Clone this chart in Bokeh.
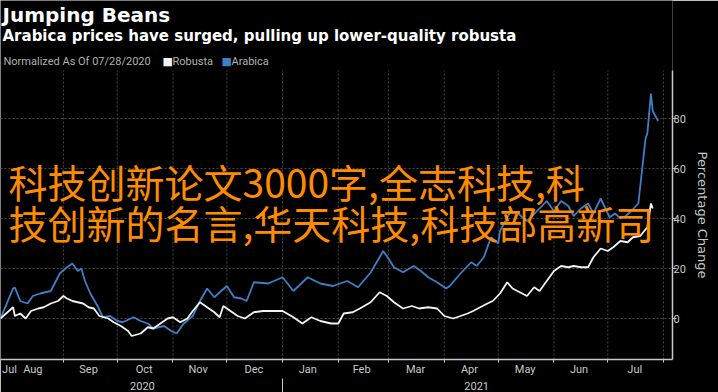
from datetime import date
from bokeh.plotting import figure
from bokeh.models import Range1d, FixedTicker, LinearAxis, Label, ColumnDataSource, Title
from bokeh.embed import file_html
from bokeh.resources import INLINE

# ---------------- data ----------------
arabica_dates = ["2020-07-28","2020-08-04","2020-08-05","2020-08-08","2020-08-12","2020-08-15","2020-08-19",
    "2020-08-25","2020-08-30","2020-09-03","2020-09-06","2020-09-09","2020-09-11","2020-09-13","2020-09-16",
    "2020-09-20","2020-09-23","2020-09-27","2020-10-01","2020-10-04","2020-10-10","2020-10-14","2020-10-18",
    "2020-10-21","2020-10-27","2020-10-31","2020-11-03","2020-11-07","2020-11-12","2020-11-16","2020-11-20",
    "2020-11-24","2020-11-27","2020-12-01","2020-12-05","2020-12-09","2020-12-12","2020-12-16","2020-12-24",
    "2021-01-01","2021-01-07","2021-01-15","2021-01-22","2021-01-29","2021-02-06","2021-02-12","2021-02-19",
    "2021-02-26","2021-02-28","2021-03-04","2021-03-09","2021-03-15","2021-03-19","2021-03-23","2021-03-28",
    "2021-04-02","2021-04-04","2021-04-10","2021-04-16","2021-04-19","2021-04-23","2021-04-27","2021-05-01",
    "2021-05-02","2021-05-08","2021-05-12","2021-05-17","2021-05-20","2021-05-24","2021-05-28","2021-06-01",
    "2021-06-05","2021-06-09","2021-06-12","2021-06-16","2021-06-20","2021-06-23","2021-06-27","2021-07-02",
    "2021-07-05","2021-07-08","2021-07-11","2021-07-14","2021-07-18","2021-07-20","2021-07-22","2021-07-23",
    "2021-07-25","2021-07-26","2021-07-29"]
arabica_values = [0, 12, 12.4, 7, 6, 9, 10,
    11, 18, 20.5, 22, 19, 20, 15, 10,
    5, 0.5, 1, -1, -1.5, 0.5, -1, -2,
    -4, -3, -5, -6, -2, 1, 7, 12,
    8.5, 10.5, 13, 8.5, 8, 7, 14.5, 14,
    16.5, 11, 16.5, 14, 13, 15, 12.5, 18.4,
    27, 25, 20.5, 18.5, 21, 19, 16.5, 14.5,
    12, 13, 18, 22.5, 21, 24.5, 32.5, 30,
    35, 43, 42, 39, 41, 44, 47, 43,
    47, 45, 41, 44, 46, 42, 48, 40.5,
    42, 40, 41, 43, 46, 59, 72, 74,
    90, 83, 79]

robusta_dates = ["2020-07-28","2020-08-04","2020-08-05","2020-08-08","2020-08-11","2020-08-14","2020-08-18",
    "2020-08-21","2020-08-25","2020-08-29","2020-09-01","2020-09-03","2020-09-06","2020-09-09","2020-09-12",
    "2020-09-15","2020-09-18","2020-09-21","2020-09-26","2020-09-29","2020-10-03","2020-10-07","2020-10-09",
    "2020-10-14","2020-10-18","2020-10-21","2020-10-25","2020-10-29","2020-11-01","2020-11-05","2020-11-09",
    "2020-11-12","2020-11-16","2020-11-20","2020-11-24","2020-11-27","2020-11-29","2020-12-03","2020-12-07",
    "2020-12-11","2020-12-16","2020-12-21","2020-12-27","2021-01-01","2021-01-07","2021-01-12","2021-01-17",
    "2021-01-22","2021-01-28","2021-02-01","2021-02-04","2021-02-09","2021-02-13","2021-02-19","2021-02-24",
    "2021-02-28","2021-03-04","2021-03-09","2021-03-14","2021-03-18","2021-03-23","2021-03-28","2021-04-01",
    "2021-04-06","2021-04-10","2021-04-14","2021-04-17","2021-04-21","2021-04-25","2021-04-28","2021-05-02",
    "2021-05-06","2021-05-09","2021-05-13","2021-05-17","2021-05-21","2021-05-24","2021-05-28","2021-06-01",
    "2021-06-05","2021-06-09","2021-06-12","2021-06-16","2021-06-20","2021-06-23","2021-06-27","2021-07-01",
    "2021-07-04","2021-07-08","2021-07-12","2021-07-15","2021-07-19","2021-07-23","2021-07-25","2021-07-26"]
robusta_values = [0, 4.5, 1, 2, 0, 3, 4,
    4.5, 6, 7, 9, 8, 7, 6.5, 6,
    4.5, 4, 1, 0, -1.5, -3, -5, -7,
    -6, -3.5, -4, -2, 0, 0.5, -1.5, 0,
    3, 6.5, 4.5, 2.5, 0.5, 5, 3, 1,
    0, 2.5, 3, 3, 3, 0.5, -2, 0.5,
    -1, -2, -2, 2, 2.5, 4, 6.5, 10.5,
    9, 6.5, 4, 5, 4, 4.5, 4, 1,
    0, 1, 2, 3, 4.5, 6, 7, 10,
    14.5, 12, 10.5, 9, 12.5, 11, 15, 19,
    21, 20.5, 21, 20.5, 20.5, 24.5, 28, 27,
    28.5, 31, 30.5, 32.5, 33, 36.5, 46, 44]

month_labels = ["Jul", "Aug", "Sep", "Oct", "Nov", "Dec", "Jan", "Feb", "Mar", "Apr", "May", "Jun", "Jul"]
month_label_dates = ["2020-08-02", "2020-08-15", "2020-09-15", "2020-10-16", "2020-11-15", "2020-12-16",
                     "2021-01-15", "2021-02-14", "2021-03-16", "2021-04-15", "2021-05-16", "2021-06-15", "2021-07-16"]
month_start_dates = ["2020-09-01", "2020-10-01", "2020-11-01", "2020-12-01", "2021-01-01", "2021-02-01",
                     "2021-03-01", "2021-04-01", "2021-05-01", "2021-06-01", "2021-07-01", "2021-08-01"]
year_labels = ["2020", "2021"]
year_label_dates = ["2020-10-15", "2021-04-19"]
year_break_dates = ["2021-01-01"]
y_ticks = [0, 20, 40, 60, 80]

title_text = "Jumping Beans"
subtitle_text = "Arabica prices have surged, pulling up lower-quality robusta"
note_text = "Normalized As Of 07/28/2020"
series_names = ["Robusta", "Arabica"]
y_axis_title = "Percentage Change"
overlay_lines = ["科技创新论文3000字,全志科技,科", "技创新的名言,华天科技,科技部高新司"]

# ---------------- helpers ----------------
ORIGIN = date(2020, 7, 28)
def day(s):
    return (date.fromisoformat(s) - ORIGIN).days

GRAY = "#c8c8c8"
BLUE = "#3f7fc8"
WHITE = "#f2f2f2"
Y_LO, Y_HI = -16.4, 99.2          # visible value span of the chart panel
Y_TOP = 127.2                     # frame extends up to the top of the picture (header area)

p = figure(width=718, height=392, output_backend="svg", toolbar_location=None,
           x_range=Range1d(0, 374), y_range=Range1d(Y_LO, Y_TOP),
           y_axis_location="right",
           min_border_left=0, min_border_right=46, min_border_top=0, min_border_bottom=33,
           background_fill_color="black", border_fill_color="black", outline_line_color=None)
p.title = None

# vertical month gridlines limited to the chart panel
ms = [day(d) for d in month_start_dates]
p.segment(x0=ms, y0=[Y_LO] * len(ms), x1=ms, y1=[Y_HI] * len(ms),
          line_color="#4a4a4a", line_dash="2 2", line_width=1)
p.xgrid.visible = False
p.ygrid[0].grid_line_color = "#4a4a4a"
p.ygrid[0].grid_line_dash = "2 2"

src_a = ColumnDataSource(dict(x=[day(d) for d in arabica_dates], y=arabica_values))
src_r = ColumnDataSource(dict(x=[day(d) for d in robusta_dates], y=robusta_values))
p.line("x", "y", source=src_a, line_color=BLUE, line_width=1.8)
p.line("x", "y", source=src_r, line_color=WHITE, line_width=1.8)

# right y axis
ya = p.yaxis[0]
ya.bounds = (Y_LO, Y_HI)
ya.ticker = FixedTicker(ticks=y_ticks)
ya.axis_line_color = GRAY
ya.axis_line_width = 1.5
ya.major_tick_line_color = GRAY
ya.major_tick_in = 0
ya.major_tick_out = 4
ya.minor_tick_line_color = None
ya.major_label_text_color = GRAY
ya.major_label_text_font = "Roboto"
ya.major_label_text_font_size = "11px"
ya.major_label_standoff = -3

# axis title on the right, placed along the chart panel
p.add_layout(Title(text=y_axis_title, text_font="DejaVu Sans", text_font_size="13px",
                   text_font_style="normal", text_color=GRAY, align="left",
                   offset=151, standoff=12), "right")

# bottom month axis
xa = p.xaxis[0]
xa.ticker = FixedTicker(ticks=[day(d) for d in month_label_dates], minor_ticks=ms)
xa.major_label_overrides = {day(d): l for d, l in zip(month_label_dates, month_labels)}
xa.axis_line_color = GRAY
xa.axis_line_width = 1.5
xa.major_tick_line_color = None
xa.major_tick_in = 0
xa.major_tick_out = 0
xa.minor_tick_line_color = GRAY
xa.minor_tick_in = 0
xa.minor_tick_out = 3
xa.major_label_text_color = GRAY
xa.major_label_text_font = "Roboto"
xa.major_label_text_font_size = "11px"
xa.major_label_standoff = 0

# year axis
yr = LinearAxis(ticker=FixedTicker(ticks=[day(d) for d in year_label_dates],
                                   minor_ticks=[day(d) for d in year_break_dates]))
yr.major_label_overrides = {day(d): l for d, l in zip(year_label_dates, year_labels)}
yr.axis_line_color = None
yr.major_tick_line_color = None
yr.major_tick_in = 0
yr.major_tick_out = 0
yr.minor_tick_line_color = GRAY
yr.minor_tick_in = 0
yr.minor_tick_out = 16
yr.major_label_text_color = GRAY
yr.major_label_text_font = "Roboto"
yr.major_label_text_font_size = "11px"
yr.major_label_standoff = -13
p.add_layout(yr, "below")

# ---------------- texts inside the frame (screen units from frame bottom-left) ----------------
FB = 359  # canvas y of frame bottom
def lab(x, cy, text, size, color, style="normal", font="Roboto"):
    p.add_layout(Label(x=x, y=FB - cy, x_units="screen", y_units="screen", text=text,
                       text_font=font, text_font_size=size, text_color=color,
                       text_font_style=style, text_baseline="middle", text_align="left"))

lab(2, 14, title_text, "20px", "white", "bold", "DejaVu Sans")
lab(2, 35, subtitle_text, "15px", "white", "bold", "DejaVu Sans")
lab(3, 61, note_text, "11px", "#b0b0b0")
lab(162, 61, "\u25A0", "11px", WHITE, font="DejaVu Sans")
lab(172, 61, series_names[0], "11px", "#b0b0b0")
lab(221, 61, "\u25A0", "11px", BLUE, font="DejaVu Sans")
lab(231, 61, series_names[1], "11px", "#b0b0b0")

for cy, txt in zip([180, 221], overlay_lines):
    lab(8, cy, txt, "39px", "#FF8C00", font="Noto Sans CJK SC")

open("out.html", "w").write(file_html(p, INLINE))
